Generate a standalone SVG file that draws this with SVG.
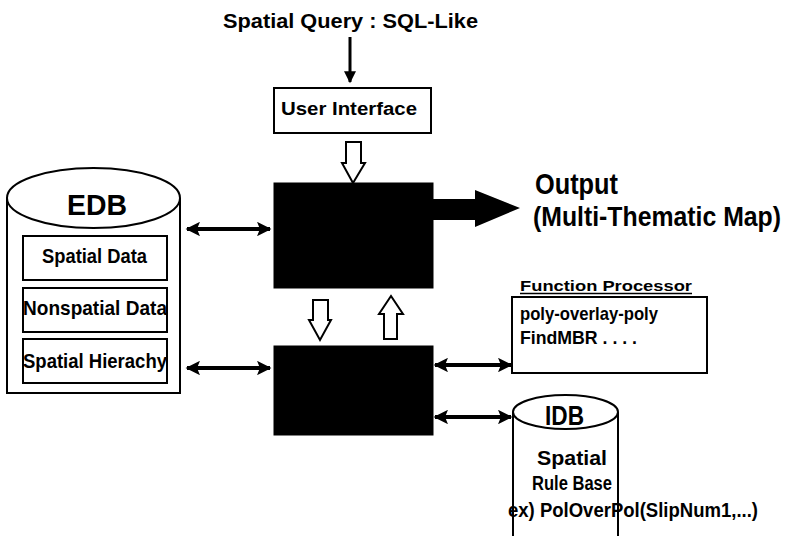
<svg xmlns="http://www.w3.org/2000/svg" width="788" height="536" viewBox="0 0 788 536">
<defs>
<style>
text{font-family:"Liberation Sans",Arial,sans-serif;font-weight:bold;fill:#000}
.box{fill:#fff;stroke:#000;stroke-width:2}
.blk{fill:#000;stroke:#000}
.hol{fill:#fff;stroke:#000;stroke-width:2;stroke-linejoin:miter}
.con{stroke:#000;stroke-width:4;fill:none}
</style>
<marker id="ah" viewBox="0 0 10 10" refX="9" refY="5" markerWidth="4" markerHeight="3.6" orient="auto-start-reverse" markerUnits="strokeWidth">
<path d="M0,0 L10,5 L0,10 L2,5 Z" fill="#000"/>
</marker>
<marker id="ah2" viewBox="0 0 10 10" refX="9" refY="5" markerWidth="4.5" markerHeight="4" orient="auto" markerUnits="strokeWidth">
<path d="M0,0 L10,5 L0,10 Z" fill="#000"/>
</marker>
</defs>
<rect width="788" height="536" fill="#fff"/>

<g id="query">
<text x="223" y="28" font-size="21" textLength="255" lengthAdjust="spacingAndGlyphs">Spatial Query : SQL-Like</text>
</g>

<g id="user-interface">
<rect class="box" x="274" y="88" width="157" height="45"/>
<text x="281" y="115" font-size="18" textLength="136" lengthAdjust="spacingAndGlyphs">User  Interface</text>
</g>

<g id="processor-top">
<rect class="blk" x="274" y="183" width="159" height="105"/>
</g>

<g id="processor-bottom">
<rect class="blk" x="274" y="346" width="159" height="89"/>
</g>

<g id="edb">
<path class="box" d="M7,198 L7,393 L180,393 L180,198"/>
<ellipse class="box" cx="93.5" cy="198" rx="86.5" ry="30"/>
<text x="67" y="215" font-size="30" textLength="60" lengthAdjust="spacingAndGlyphs">EDB</text>
<rect class="box" x="23" y="236" width="144" height="44"/>
<text x="42" y="263" font-size="21" textLength="105" lengthAdjust="spacingAndGlyphs">Spatial Data</text>
<rect class="box" x="23" y="288" width="144" height="44"/>
<text x="23" y="315" font-size="21" textLength="144" lengthAdjust="spacingAndGlyphs">Nonspatial Data</text>
<rect class="box" x="23" y="339" width="144" height="44"/>
<text x="23" y="368" font-size="21" textLength="144" lengthAdjust="spacingAndGlyphs">Spatial Hierachy</text>
</g>

<g id="output">
<text x="535" y="194" font-size="30" textLength="83" lengthAdjust="spacingAndGlyphs">Output</text>
<text x="533" y="226" font-size="28" textLength="248" lengthAdjust="spacingAndGlyphs">(Multi-Thematic Map)</text>
</g>

<g id="function-processor">
<text x="520" y="291" font-size="15" textLength="172" lengthAdjust="spacingAndGlyphs">Function Processor</text>
<line x1="520" y1="293.5" x2="692" y2="293.5" stroke="#000" stroke-width="1.5"/>
<rect class="box" x="512" y="297" width="195" height="76"/>
<text x="520" y="320" font-size="19" textLength="138" lengthAdjust="spacingAndGlyphs">poly-overlay-poly</text>
<text x="520" y="344" font-size="19" textLength="117" lengthAdjust="spacingAndGlyphs">FindMBR . . . .</text>
</g>

<g id="idb">
<path class="box" d="M513,412 L513,540 M618,412 L618,540"/>
<ellipse class="box" cx="565.5" cy="412" rx="52.5" ry="17"/>
<text x="545" y="425" font-size="28" textLength="39" lengthAdjust="spacingAndGlyphs">IDB</text>
<text x="537" y="465" font-size="21" textLength="70" lengthAdjust="spacingAndGlyphs">Spatial</text>
<text x="532" y="490" font-size="20" textLength="80" lengthAdjust="spacingAndGlyphs">Rule Base</text>
<text x="508" y="517" font-size="21" textLength="250" lengthAdjust="spacingAndGlyphs">ex) PolOverPol(SlipNum1,...)</text>
</g>

<g id="connectors">
<line x1="350" y1="37" x2="350" y2="82" stroke="#000" stroke-width="3" marker-end="url(#ah2)"/>
<path class="hol" d="M346,142 L361,142 L361,163 L365,163 L353,183 L342,163 L346,163 Z"/>
<path class="hol" d="M313,300 L328,300 L328,320 L331,320 L320,340 L309,320 L313,320 Z"/>
<path class="hol" d="M384,339 L397,339 L397,314 L403,314 L391,296 L379,314 L384,314 Z"/>
<path d="M433,199 L475,199 L475,190 L520,208 L475,227 L475,220 L433,220 Z" fill="#000"/>
<line class="con" x1="187" y1="229" x2="270" y2="229" marker-start="url(#ah)" marker-end="url(#ah)"/>
<line class="con" x1="187" y1="368" x2="270" y2="368" marker-start="url(#ah)" marker-end="url(#ah)"/>
<line class="con" x1="435" y1="365" x2="511" y2="365" marker-start="url(#ah)" marker-end="url(#ah)"/>
<line class="con" x1="435" y1="417" x2="511" y2="417" marker-start="url(#ah)" marker-end="url(#ah)"/>
</g>
</svg>
